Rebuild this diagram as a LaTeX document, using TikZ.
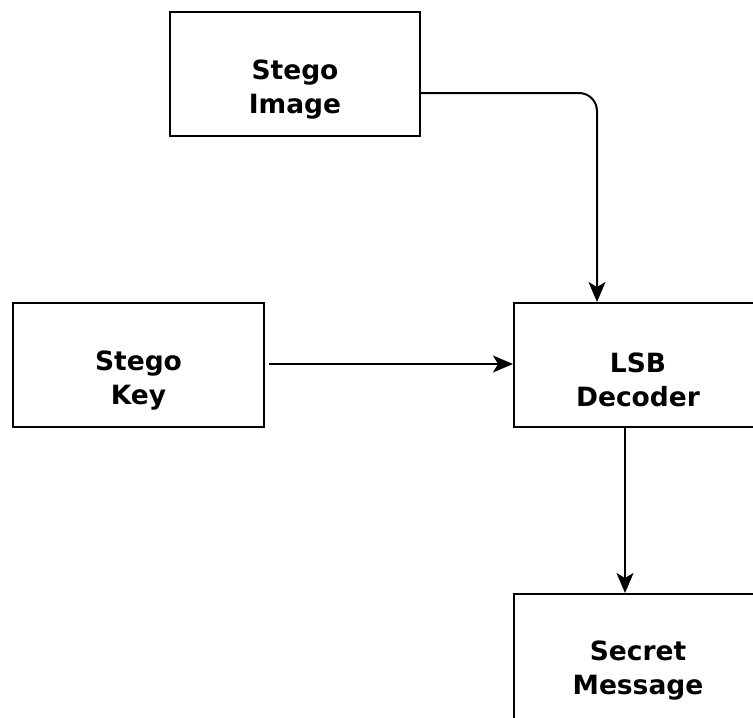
\documentclass[tikz,border=0pt]{standalone}
\usepackage{fontspec}
\setmainfont{DejaVu Sans}
\usetikzlibrary{arrows.meta}
\begin{document}
\begin{tikzpicture}[x=1pt,y=-1pt,
  blk/.style={draw=black, line width=2pt, minimum width=250pt, minimum height=124pt, inner sep=0pt, anchor=north west},
  lbl/.style={align=center, font=\fontsize{26.5}{34}\selectfont\bfseries, inner sep=0pt},
  conn/.style={draw=black, line width=2pt, -{Stealth[length=20pt,width=17pt,inset=5pt]}}]
\useasboundingbox (0,0) rectangle (753,718);
\clip (0,0) rectangle (753,718);
\node[blk] (img) at (169,11) {};
\node[blk, minimum width=251pt] (key) at (12,302) {};
\node[blk] (dec) at (513,302) {};
\node[blk, minimum height=135pt] (msg) at (513,593) {};
\node[lbl] (timg) at ([yshift=-16pt]img.center) {Stego\\Image};
\node[lbl] (tkey) at ([yshift=-16pt]key.center) {Stego\\Key};
\node[lbl] (tdec) at (638,380) {LSB\\Decoder};
\node[lbl] (tmsg) at (638,671) {Secret\\Message};
\coordinate (a1) at (419,93);
\coordinate (a2) at (597,302);
\draw[conn, rounded corners=18pt] (a1) -| (a2);
\coordinate (k1) at (269,364);
\draw[conn] (k1) -- (dec.west |- k1);
\coordinate (d1) at (625,426);
\draw[conn] (d1) -- (625,593);
\end{tikzpicture}
\end{document}
